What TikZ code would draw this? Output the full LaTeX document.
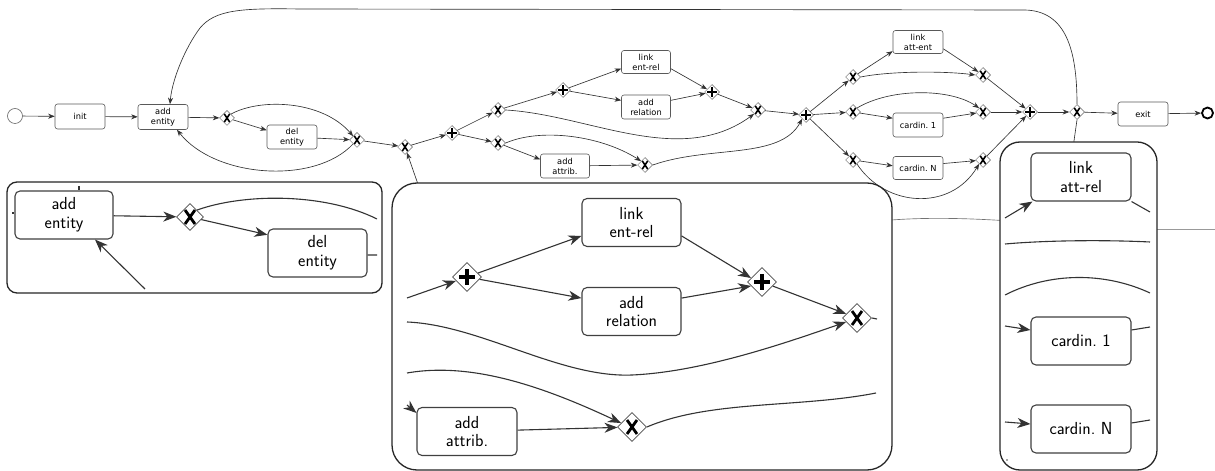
\documentclass[tikz,border=0pt]{standalone}
\usepackage{fontspec}
\newfontfamily\smallf{DejaVu Sans}
\usetikzlibrary{shapes.geometric,arrows.meta}
\begin{document}
\begin{tikzpicture}[x=1bp,y=-1bp,
 ln/.style={draw=black!80, line width=0.65bp},
 ar/.style={ln, -{Stealth[length=6.5bp,width=5bp,inset=2bp]}},
 bx/.style={draw=black!65, line width=0.6bp, rounded corners=2.5bp, fill=white, minimum width=50bp, minimum height=24bp, inner sep=0pt, align=center, font=\smallf\fontsize{8.3}{10}\selectfont},
 gw/.style={diamond, draw=black!60, fill=white, line width=0.5bp, inner sep=0pt, minimum size=15bp},
 gx/.style={gw, path picture={\draw[black, line width=1.6bp] ([xshift=-2.8bp,yshift=-4.2bp]path picture bounding box.center) -- ([xshift=2.8bp,yshift=4.2bp]path picture bounding box.center) ([xshift=-2.8bp,yshift=4.2bp]path picture bounding box.center) -- ([xshift=2.8bp,yshift=-4.2bp]path picture bounding box.center);}},
 gp/.style={gw, path picture={\draw[black, line width=1.7bp] ([xshift=-4.6bp]path picture bounding box.center) -- ([xshift=4.6bp]path picture bounding box.center) ([yshift=-4.6bp]path picture bounding box.center) -- ([yshift=4.6bp]path picture bounding box.center);}},
 Ln/.style={draw=black!80, line width=1.1bp},
 Ar/.style={Ln, -{Stealth[length=13bp,width=10bp,inset=4bp]}},
 Bx/.style={draw=black!75, line width=1.1bp, rounded corners=5bp, fill=white, minimum width=99bp, minimum height=48bp, inner sep=0pt, align=center, font=\sffamily\fontsize{17.5}{19}\selectfont},
 Gw/.style={diamond, draw=black!70, fill=white, line width=0.8bp, inner sep=0pt, minimum size=29bp},
 GX/.style={Gw, path picture={\draw[black, line width=2.8bp] ([xshift=-5bp,yshift=-7bp]path picture bounding box.center) -- ([xshift=5bp,yshift=7bp]path picture bounding box.center) ([xshift=-5bp,yshift=7bp]path picture bounding box.center) -- ([xshift=5bp,yshift=-7bp]path picture bounding box.center);}},
 GP/.style={Gw, path picture={\draw[black, line width=3.3bp] ([xshift=-8bp]path picture bounding box.center) -- ([xshift=8bp]path picture bounding box.center) ([yshift=-8bp]path picture bounding box.center) -- ([yshift=8bp]path picture bounding box.center);}},
 inset/.style={draw=black!85, line width=1.3bp, fill=white}
]
\useasboundingbox (0,0) rectangle (1215,471);

% ---------------- main diagram ----------------
\node[circle, draw=black!60, line width=0.6bp, minimum size=15bp, inner sep=0pt] (st) at (15,116) {};
\node[bx, minimum height=25bp] (init) at (80,116.5) {init};
\node[bx, minimum height=25bp] (ae) at (163,117) {add\\entity};
\node[gx] (g1) at (227,118) {};
\node[bx] (de) at (292,137) {del\\entity};
\node[gx] (g2) at (357,140) {};
\node[gx] (g3) at (405,147) {};
\node[gp] (g4) at (452,133) {};
\node[gx] (g5) at (498,110) {};
\node[gx] (g6) at (498,143) {};
\node[gp] (g7) at (563,90) {};
\node[bx, minimum width=49bp, minimum height=23bp] (ler) at (646,62) {link\\ent-rel};
\node[bx, minimum width=49bp] (arl) at (646,107) {add\\relation};
\node[gp] (g8) at (712,92) {};
\node[gx] (g9) at (758,110) {};
\node[bx, minimum width=49bp] (aat) at (565,166) {add\\attrib.};
\node[gx] (g10) at (645,165) {};
\node[gp] (g11) at (806,115) {};
\node[gx] (g12) at (853,77) {};
\node[gx] (g13) at (853,112) {};
\node[gx] (g14) at (853,160) {};
\node[bx, minimum height=23bp] (lae) at (918,42) {link\\att-ent};
\node[bx] (c1) at (918,125) {cardin.~1};
\node[bx, minimum height=23bp] (cN) at (918,168) {cardin.~N};
\node[gx] (g15) at (983,75) {};
\node[gx] (g16) at (983,112) {};
\node[gx] (g17) at (983,160) {};
\node[gp] (g18) at (1030,112) {};
\node[gx] (g19) at (1077,112) {};
\node[bx] (ex) at (1143,114) {exit};
\node[circle, draw=black, line width=1.8bp, minimum size=11bp, inner sep=0pt] (en) at (1207.5,113) {};

\coordinate (loopa) at (1025,10);
\coordinate (loopb) at (300,9);
\coordinate (loopc) at (200,28);
\coordinate (g3in) at (420,190);
\coordinate (g19out) at (1072,155);

\draw[ar] (st) -- (init);
\draw[ar] (init) -- (ae);
\draw[ar] (ae) -- (g1);
\draw[ar] (g1) -- (de.165);
\draw[ar] (g1.north east) .. controls (260,98) and (322,100) .. (g2.north west);
\draw[ar] (de) -- (g2);
\draw[ar] (g2.south west) .. controls (315,185) and (215,178) .. ([xshift=14bp]ae.south);
\draw[ar] (g2) -- (g3);
\draw[ar] (g3in) -- (g3);
\draw[ar] (g3) -- (g4);
\draw[ar] (g4) -- (g5);
\draw[ar] (g4) -- (g6);
\draw[ar] (g5) -- (g7);
\draw[ar] (g7) -- (ler.195);
\draw[ar] (g7) -- (arl.165);
\draw[ar] (ler.-15) -- (g8);
\draw[ar] (arl.15) -- (g8);
\draw[ar] (g8) -- (g9);
\draw[ar] (g5.east) .. controls (590,115) and (680,168) .. (g9.south west);
\draw[ar] (g6) -- (aat.165);
\draw[ar] (g6.east) .. controls (540,128) and (600,135) .. (g10.north west);
\draw[ar] (aat) -- (g10);
\draw[ar] (g10.east) .. controls (710,145) and (780,160) .. (g11.south west);
\draw[ar] (g9) -- (g11);
\draw[ar] (g11) -- (g12);
\draw[ar] (g11) -- (g13);
\draw[ar] (g11) -- (g14);
\draw[ar] (g12) -- (lae.200);
\draw[ar] (g12.east) .. controls (890,71) and (945,71) .. (g15.west);
\draw[ar] (lae.-15) -- (g15);
\draw[ar] (g13) -- (c1.165);
\draw[ar] (g13.north east) .. controls (890,88) and (950,88) .. (g16.north west);
\draw[ar] (c1.15) -- (g16);
\draw[ar] (g14) -- (cN.175);
\draw[ar] (cN.10) -- (g17);
\draw[ar] (g14.south east) .. controls (885,207) and (950,212) .. (g17.south west);
\draw[ar] (g15) -- (g18);
\draw[ar] (g16) -- (g18);
\draw[ar] (g17) -- (g18);
\draw[ar] (g18) -- (g19);
\draw[ar] (g19) -- (ex);
\draw[ar] (ex) -- (en);
\draw[ar] (g19.north) .. controls (1077,50) and (1066,11) .. (loopa) -- (loopb) .. controls (240,8) and (215,10) .. (loopc) .. controls (185,48) and (172,80) .. ([xshift=7bp]ae.north);
\draw[ln] (g19.south) -- (g19out);

% fragments passing between the insets
\coordinate (fra) at (880,221);
\coordinate (frb) at (1010,221);
\coordinate (frc) at (1150,229);
\coordinate (frd) at (1215,229);
\draw[ln, draw=black!55] (fra) .. controls (920,217) and (965,218) .. (frb);
\draw[ln, draw=black!40] (frc) -- (frd);

% ---------------- left inset ----------------
\draw[inset, rounded corners=10bp] (7,182) rectangle (382,293);
\node[Bx, minimum width=98bp] (L1) at (64,215) {add\\entity};
\node[GX, minimum size=27bp] (L2) at (190,217) {};
\node[Bx] (L3) at (317.5,253) {del\\entity};
\coordinate (La) at (377,219);
\coordinate (Lb) at (377,255);
\coordinate (Lc) at (145,289);
\draw[Ar] (L1) -- (L2);
\draw[Ar] (L2) -- (L3.160);
\draw[Ln] (L2.north east) .. controls (245,193) and (325,193) .. (La);
\draw[Ln] ([yshift=-2bp]L3.east) -- (Lb);
\draw[Ar] (Lc) -- ([xshift=31bp]L1.south);
\coordinate (Ld) at (79,186.5);
\coordinate (Le) at (12,213);
\draw[Ln, line width=1.4bp] (Ld) -- (L1.north -| Ld);
\draw[Ln, line width=1.4bp] (Le) -- (L1.west |- Le);

% ---------------- middle inset ----------------
\draw[inset, rounded corners=25bp] (392,183) rectangle (892,470);
\node[GP] (M1) at (467,277) {};
\node[Bx] (M2) at (631.5,222.5) {link\\ent-rel};
\node[Bx] (M3) at (631.5,311.5) {add\\relation};
\node[GP] (M4) at (762,282) {};
\node[GX] (M5) at (857,318) {};
\node[Bx, minimum width=100bp] (M6) at (467,431.5) {add\\attrib.};
\node[GX] (M7) at (632,427) {};
\coordinate (Ma) at (407,298);
\coordinate (Mb) at (407,322);
\coordinate (Mc) at (407,373);
\coordinate (Md) at (407,405);
\coordinate (Me) at (877,319);
\coordinate (Mf) at (876,393);
\draw[Ar] (Ma) -- (M1);
\draw[Ar] (M1) -- (M2.195);
\draw[Ar] (M1) -- (M3.165);
\draw[Ar] (M2.-15) -- (M4.160);
\draw[Ar] (M3.15) -- (M4.200);
\draw[Ar] (M4) -- (M5);
\draw[Ar] (Mb) .. controls (480,325) and (560,378) .. (632,375) .. controls (700,372) and (780,345) .. (M5.200);
\draw[Ln] (M5.east) -- (Me);
\draw[Ar] (Mc) .. controls (470,362) and (540,385) .. (M7.160);
\draw[Ar] (M6) -- (M7);
\draw[Ar] (Md) -- ([yshift=-6bp]M6.north west);
\draw[Ln] (M7.east) .. controls (710,400) and (800,408) .. (Mf);

% ---------------- right inset ----------------
\draw[inset, rounded corners=20bp] (1000,142) rectangle (1157,470);
\node[Bx, minimum width=100bp] (R1) at (1081,177) {link\\att-rel};
\node[Bx, minimum width=100bp] (R2) at (1081,341) {cardin.~1};
\node[Bx, minimum width=100bp] (R3) at (1081,429) {cardin.~N};
\coordinate (Ra) at (1005,218);
\coordinate (Rb) at (1150,212);
\coordinate (Rc) at (1005,244);
\coordinate (Rd) at (1150,242);
\coordinate (Re) at (1005,295);
\coordinate (Rf) at (1150,293);
\coordinate (Rg) at (1005,326);
\coordinate (Rh) at (1150,327);
\coordinate (Ri) at (1005,422);
\coordinate (Rj) at (1150,420);
\draw[Ar] (Ra) -- ([xshift=2bp]R1.south west);
\draw[Ln] (R1.south east) -- (Rb);
\draw[Ln] (Rc) .. controls (1050,240) and (1110,240) .. (Rd);
\draw[Ln] (Re) .. controls (1050,272) and (1105,272) .. (Rf);
\draw[Ar] (Rg) -- ([yshift=11bp]R2.west);
\draw[Ln] ([yshift=11bp]R2.east) -- (Rh);
\draw[Ar] (Ri) -- ([yshift=5bp]R3.west);
\draw[Ln] ([yshift=6bp]R3.east) -- (Rj);
\fill[black!70] (1007,460) circle (0.8bp);
\end{tikzpicture}
\end{document}
